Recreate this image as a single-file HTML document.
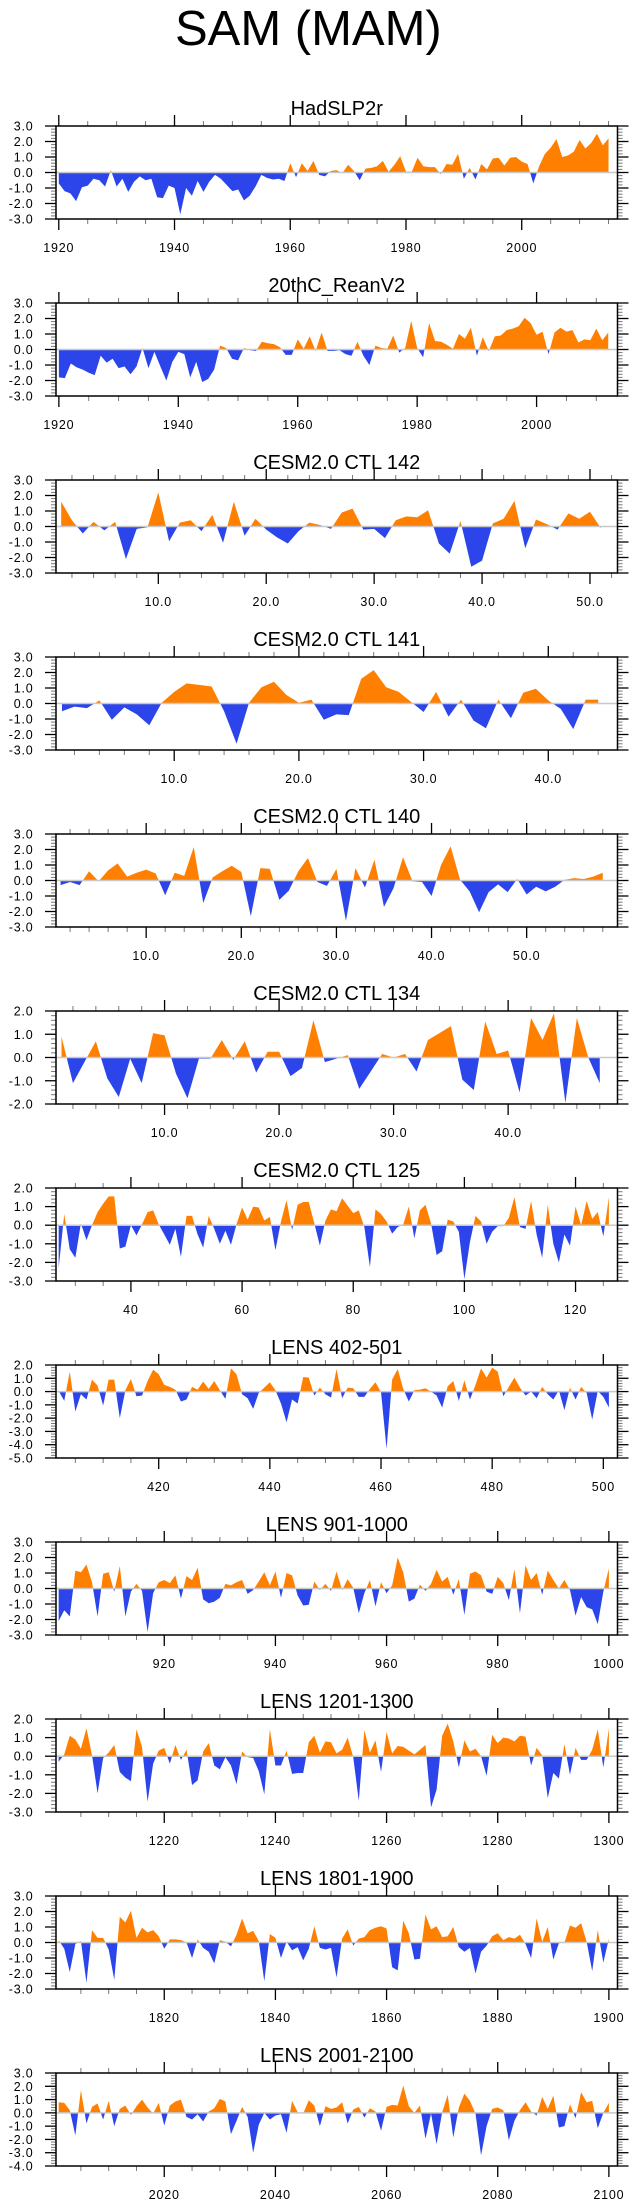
<!DOCTYPE html>
<html><head><meta charset="utf-8">
<style>
html,body{margin:0;padding:0;background:#fff;}
svg{display:block;}
text{font-family:"Liberation Sans",Arial,sans-serif;fill:#000;}
</style></head>
<body>
<svg id="chart" width="635" height="2208" viewBox="0 0 635 2208" xmlns="http://www.w3.org/2000/svg">
<text x="175" y="45" font-size="49">SAM (MAM)</text>
</svg>
<script>
const p1Values=[-0.7,-1.2,-1.35,-1.85,-0.95,-0.85,-0.4,-0.5,-0.9,0.15,-0.9,-0.4,-1.25,-0.6,-0.25,-0.5,-0.4,-1.6,-1.65,-0.85,-1.0,-2.7,-1.0,-1.5,-0.55,-1.25,-0.6,-0.15,-0.4,-0.8,-1.2,-1.1,-1.8,-1.5,-0.9,-0.15,-0.35,-0.45,-0.4,-0.55,0.6,-0.3,0.6,0.1,0.75,-0.15,-0.25,0.1,0.15,-0.05,0.5,0.1,-0.5,0.25,0.3,0.4,0.75,0.05,0.5,1.05,0.05,0.05,0.95,0.4,0.35,0.35,-0.1,0.55,0.5,1.2,-0.4,0.3,-0.45,0.55,0.2,0.9,0.95,0.45,0.95,1.0,0.7,0.55,-0.7,0.4,1.2,1.6,2.15,1.0,1.1,1.35,2.1,1.55,1.9,2.5,1.75,2.2];
const p2Values=[-1.8,-1.85,-0.9,-1.15,-1.3,-1.5,-1.65,-0.4,-0.85,-0.6,-1.2,-1.1,-1.6,-1.1,0.1,-1.2,-0.15,-1.1,-2.0,-0.8,-0.15,-0.3,-1.8,-0.8,-2.1,-1.9,-1.3,0.25,0.1,-0.6,-0.7,0.1,-0.05,-0.1,0.5,0.4,0.35,0.15,-0.35,-0.35,0.65,0.05,0.85,-0.1,1.1,-0.1,-0.1,-0.05,-0.3,-0.4,0.5,-0.4,-1.0,0.25,0.1,0.05,0.9,-0.2,0.1,1.85,0.1,-0.5,1.7,0.55,0.5,0.3,0.05,1.0,0.7,1.4,-0.4,0.8,-0.1,0.85,0.9,1.25,1.35,1.5,2.05,1.7,0.95,1.15,-0.3,1.1,1.4,1.15,1.25,0.45,0.65,0.6,1.35,0.6,1.1];
const p3Values=[1.6,0.4,-0.45,0.3,-0.25,0.3,-2.1,-0.15,-0.05,2.2,-0.95,0.25,0.4,-0.3,0.75,-1.05,1.6,-0.6,0.5,-0.2,-0.7,-1.1,-0.3,0.25,0.1,-0.15,0.9,1.15,-0.2,-0.15,-0.75,0.4,0.65,0.6,1.05,-1.1,-1.75,0.35,-2.6,-2.2,0.2,0.5,1.65,-1.4,0.45,0.15,-0.2,0.85,0.5,0.95,-0.1];
const p4Values=[-0.5,-0.2,-0.3,0.2,-1.05,-0.25,-0.7,-1.4,0.05,0.75,1.3,1.2,1.1,-0.5,-2.6,0.05,1.05,1.4,0.55,0.05,0.25,-1.05,-0.7,-0.75,1.6,2.15,1.05,0.75,0.1,-0.55,0.75,-0.85,0.25,-1.1,-1.6,0.25,-0.95,0.7,0.95,0.2,-0.35,-1.65,0.25,0.25];
const p5Values=[-0.3,-0.1,-0.3,0.6,-0.05,0.65,1.1,0.25,0.5,0.7,0.45,-0.95,0.5,0.3,2.15,-1.45,0.2,0.6,0.95,0.55,-2.3,0.8,0.75,-1.25,-0.65,0.6,1.45,-0.1,-0.35,0.75,-2.6,0.8,-0.45,1.35,-1.7,-0.5,1.5,-0.05,-0.1,-1.0,1.0,2.2,0.05,-0.7,-2.05,-0.75,-0.25,-0.75,0.1,-0.9,-0.4,-0.7,-0.4,0.05,0.15,0.1,0.25,0.5];
const p6Values=[0.9,-1.1,-0.2,0.7,-0.9,-1.7,-0.05,-1.1,1.05,0.95,-0.7,-1.75,-0.05,-0.05,0.75,-0.1,0.7,-0.65,0.25,0.25,-0.8,-0.45,1.6,-0.2,-0.05,0.1,-1.35,-0.6,0.15,0.0,0.15,-0.6,0.75,1.05,1.35,-0.95,-1.4,1.55,0.15,0.3,-1.5,1.7,0.75,1.9,-1.95,1.7,0.0,-1.1];
const p7Values=[-2.3,0.6,-1.3,-1.75,0.1,-0.8,0.0,0.7,1.15,1.55,1.55,-1.25,-1.15,0.0,-0.55,0.05,0.7,0.8,0.05,-0.5,-1.05,-0.2,-1.7,0.5,0.5,-0.5,-1.2,0.5,-0.2,-1.0,-0.3,-1.05,0.05,0.95,0.3,1.0,0.95,0.25,0.45,-1.35,0.2,1.35,-0.25,1.1,1.25,1.25,0.1,-1.1,0.25,0.85,0.75,1.45,1.05,0.65,0.8,-0.1,-2.25,0.85,0.6,0.2,-0.45,-0.1,0.05,1.0,-0.7,0.8,1.1,0.1,-1.6,-1.4,0.3,0.2,-0.35,-2.9,-0.9,0.5,0.2,-1.0,-0.35,-0.05,-0.05,0.4,1.5,-0.1,-0.2,1.3,-0.5,-1.75,1.1,-1.0,-2.0,-0.5,-1.1,1.0,0.0,1.3,0.35,0.7,-0.6,1.5];
const p8Values=[0.05,-0.7,1.5,-1.5,-0.2,-0.6,0.9,0.45,-1.05,0.9,0.9,-2.0,0.1,0.95,-0.35,-0.3,0.8,1.65,1.3,0.5,0.35,0.15,-0.75,-0.6,0.35,0.15,0.75,0.2,0.8,0.1,-0.55,1.75,1.3,-0.2,-0.5,-1.3,-0.1,0.3,0.7,0.1,-0.9,-2.3,-0.6,-0.9,1.1,1.05,-0.3,0.3,-0.2,-0.45,1.7,-0.5,0.3,0.25,-0.4,-0.4,0.2,0.7,-0.05,-4.3,0.9,1.7,0.2,-0.75,0.1,0.15,0.25,0.0,-0.3,-1.2,0.4,0.8,-0.7,0.85,-0.6,0.5,1.75,1.05,1.8,1.5,-0.35,0.35,1.05,0.3,-0.3,0.0,-0.5,0.35,-0.2,-0.6,0.1,-1.4,0.3,-0.6,0.35,-0.1,-2.1,0.05,-0.4,-1.2];
const p9Values=[-2.1,-1.4,-1.8,1.15,1.05,1.55,0.4,-1.8,0.95,1.05,-0.2,1.45,-1.8,-0.2,0.3,-0.15,-2.8,-0.3,0.4,0.55,0.35,0.85,-0.65,0.8,0.55,1.35,-0.7,-0.95,-0.85,-0.6,0.3,0.2,0.4,0.55,-0.35,-0.1,0.45,1.05,0.2,1.1,-0.6,1.0,0.85,-0.45,-1.1,-1.05,0.45,-0.1,0.3,-0.15,1.1,-0.1,0.6,0.05,-1.6,-0.3,0.55,-1.15,0.4,-0.3,0.2,2.0,1.05,-0.85,-0.65,0.25,-0.15,0.3,1.2,0.45,0.75,-0.4,0.6,-1.7,0.95,1.1,0.85,-0.2,-0.35,0.75,0.35,-0.75,1.25,-1.6,1.5,0.55,1.0,-0.4,1.15,0.55,0.0,0.55,-0.1,-1.75,-0.55,-1.2,-1.35,-2.3,-0.2,1.3];
const p10Values=[-0.3,0.1,1.1,0.9,0.4,1.5,0.05,-2.0,-0.1,0.2,0.6,-0.85,-1.15,-1.35,1.45,0.5,-2.45,-0.4,0.3,0.45,-0.4,0.6,-0.2,0.35,-1.55,-1.3,0.25,0.7,-0.5,-0.7,-0.05,-0.5,-1.5,0.25,-0.05,-0.1,-0.8,-2.05,1.45,-0.5,-0.5,0.3,-0.95,-0.9,-0.9,0.75,1.1,0.2,0.8,0.75,0.15,0.35,1.0,-0.05,-2.4,1.4,0.2,0.85,-0.85,1.3,0.15,0.55,0.5,0.3,0.1,0.35,0.6,-2.75,-1.8,1.1,1.75,0.8,-0.6,0.85,0.25,0.4,0.0,-1.05,1.15,0.7,1.0,0.95,0.8,1.1,1.05,-0.5,0.45,0.05,-2.25,-0.9,-1.2,0.65,-1.0,0.45,-0.2,-0.2,0.35,1.45,-0.6,1.5];
const p11Values=[0.15,-0.4,-1.9,-0.1,0.1,-2.6,0.8,0.3,0.3,-0.45,-2.4,1.65,1.3,2.05,0.3,0.95,0.65,0.8,0.4,-0.4,0.2,0.2,0.15,0.0,-1.0,0.2,-0.35,-0.6,-1.35,0.15,0.05,-0.25,0.5,1.55,0.6,0.75,0.1,-2.5,0.55,0.3,-1.0,0.05,-0.5,-0.3,-1.15,-0.4,1.05,-0.35,-0.45,-0.35,-2.25,0.25,0.85,-0.2,0.25,0.35,0.8,0.95,1.05,0.9,-1.6,-1.8,1.4,0.6,-1.1,-1.05,1.8,0.85,1.05,0.35,0.4,1.0,-0.3,-0.6,-0.35,-2.0,-0.6,-0.2,0.4,0.6,0.15,0.35,0.25,0.5,-0.1,-1.0,1.55,0.05,1.0,-1.1,-0.05,0.0,1.1,0.95,1.25,0.05,-1.85,0.8,-1.3,0.25];
const p12Values=[0.8,0.75,0.2,-1.7,1.7,-0.8,0.45,0.7,-0.5,0.9,-1.0,0.3,0.55,-0.15,0.5,1.0,0.4,-0.05,0.75,-0.95,0.55,0.85,1.0,-0.3,-0.5,-0.1,-0.65,0.1,0.35,1.05,0.85,-1.6,-0.6,0.45,-0.3,-3.0,-0.9,0.0,-0.5,-0.2,-0.1,-1.5,0.9,0.05,-0.05,0.95,0.55,-1.0,0.5,0.3,0.4,0.8,-0.8,0.25,0.45,-0.35,0.35,0.1,-1.35,0.45,0.6,0.55,2.05,0.5,0.0,0.55,-1.95,-0.05,-2.35,0.05,1.35,-1.85,0.4,1.45,0.9,-0.05,-3.2,-1.0,0.3,0.4,0.2,-2.05,-0.6,0.2,0.8,0.1,-0.2,1.2,0.3,1.3,-1.1,-1.0,0.65,-0.4,1.55,0.8,0.9,-1.15,0.0,0.75];

const panelTitles=["HadSLP2r","20thC_ReanV2","CESM2.0 CTL 142","CESM2.0 CTL 141","CESM2.0 CTL 140","CESM2.0 CTL 134","CESM2.0 CTL 125","LENS 402-501","LENS 901-1000","LENS 1201-1300","LENS 1801-1900","LENS 2001-2100"];
const panelSeries=[p1Values,p2Values,p3Values,p4Values,p5Values,p6Values,p7Values,p8Values,p9Values,p10Values,p11Values,p12Values];
const panelStart=[1920,1920,1,1,1,1,27,402,901,1201,1801,2001];
const panelYMin=[-3,-3,-3,-3,-3,-2,-3,-5,-3,-3,-3,-4];
const panelYMax=[3,3,3,3,3,2,2,2,3,2,3,3];
const panelXMajor=[20,20,10,10,10,10,20,20,20,20,20,20];
const panelXMinor=[5,5,2,2,2,2,5,5,5,5,5,5];
const panelXFmt=[0,0,1,1,1,1,0,0,0,0,0,0];

const NS="http://www.w3.org/2000/svg";
const svg=document.getElementById('chart');
function mk(tag,attrs,parent){const e=document.createElementNS(NS,tag);for(const k in attrs)e.setAttribute(k,attrs[k]);(parent||svg).appendChild(e);return e;}

const L=56,R=617.5,H=93;
panelSeries.forEach((vals,k)=>{
  const top=126+177*k,bot=top+H;
  const g=mk('g',{});
  
  
  const x0=panelStart[k],xmin=x0-0.48,xmax=x0+vals.length-1+1.55;
  const ymin=panelYMin[k],ymax=panelYMax[k];
  const sx=v=>L+(v-xmin)/(xmax-xmin)*(R-L);
  const sy=v=>bot-(v-ymin)/(ymax-ymin)*H;
  // title
  const t=mk('text',{x:(L+R)/2,y:top-11,'font-size':20,'text-anchor':'middle'},g);
  t.textContent=panelTitles[k];
  
  
  // points with zero crossings
  const pts=[];
  for(let i=0;i<vals.length;i++){
    const xv=x0+i,v=vals[i];
    if(i>0){const pv=vals[i-1];if((pv>0&&v<0)||(pv<0&&v>0)){const f=pv/(pv-v);pts.push([xv-1+f,0]);}}
    pts.push([xv,v]);
  }
  const z=sy(0);
  function poly(fn,color,name){
    let d='M'+sx(pts[0][0]).toFixed(2)+','+z.toFixed(2);
    pts.forEach(p=>{d+='L'+sx(p[0]).toFixed(2)+','+sy(fn(p[1])).toFixed(2);});
    d+='L'+sx(pts[pts.length-1][0]).toFixed(2)+','+z.toFixed(2)+'Z';
    const p=mk('path',{d:d,fill:color,stroke:'none'},g);
    
    
  }
  poly(v=>Math.max(v,0),'#ff8000','positive-fill');
  poly(v=>Math.min(v,0),'#2b45ea','negative-fill');
  const zl=mk('line',{x1:L,x2:R,y1:z,y2:z,stroke:'#c8c8c8','stroke-width':1.5},g);
  
  
  // y ticks
  for(let i=Math.round(ymin*5);i<=Math.round(ymax*5);i++){
    const v=i/5,y=sy(v),major=(i%5===0),len=major?11:5;
    mk('line',{x1:L-len,x2:L,y1:y,y2:y,stroke:major?'#000':'#777','stroke-width':major?1.3:1},g);
    mk('line',{x1:R,x2:R+len,y1:y,y2:y,stroke:major?'#000':'#777','stroke-width':major?1.3:1},g);
    if(major){
      const lb=mk('text',{x:33.5,y:y+4.5,'font-size':12.5,'text-anchor':'end','letter-spacing':'0.8'},g);
      lb.textContent=v.toFixed(1);
      
      
    }
  }
  // x ticks
  const mi=panelXMinor[k],ma=panelXMajor[k];
  for(let v=Math.ceil(xmin/mi)*mi;v<=xmax;v+=mi){
    const x=sx(v),major=(v%ma===0),len=major?11:5;
    mk('line',{x1:x,x2:x,y1:bot,y2:bot+len,stroke:major?'#000':'#777','stroke-width':major?1.3:1},g);
    mk('line',{x1:x,x2:x,y1:top-len,y2:top,stroke:major?'#000':'#777','stroke-width':major?1.3:1},g);
    if(major){
      const lb=mk('text',{x:x,y:bot+33,'font-size':12.5,'text-anchor':'middle','letter-spacing':'0.8'},g);
      lb.textContent=panelXFmt[k]?v.toFixed(1):String(v);
      
      
    }
  }
  const bx=mk('rect',{x:L,y:top,width:R-L,height:H,fill:'none',stroke:'#000','stroke-width':1.5},g);
  
  
});
</script>
</body></html>
